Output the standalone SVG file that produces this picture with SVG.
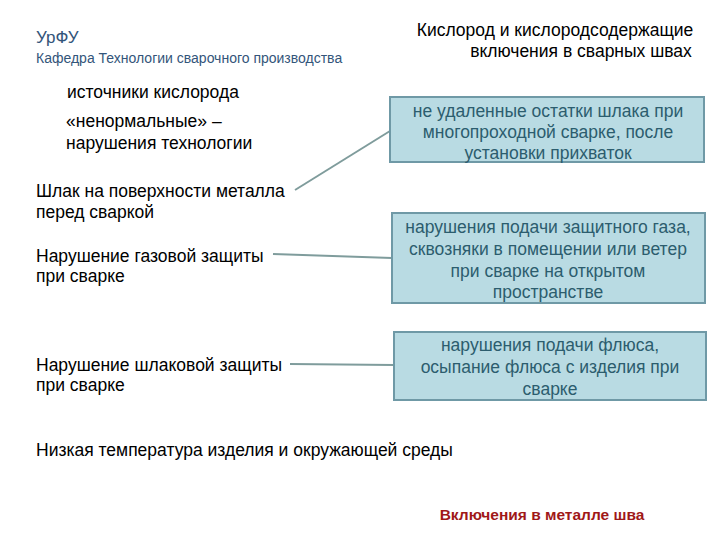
<svg xmlns="http://www.w3.org/2000/svg" width="720" height="540" viewBox="0 0 720 540">
<style>
text{font-family:"Liberation Sans",Arial,sans-serif;fill:#000}
.b rect{fill:#b9dbe3;stroke:#6f99a6;stroke-width:2}
.b text{fill:#2c5d6e;font-size:17.5px;text-anchor:middle}
.l{font-size:17.5px}
</style>
<rect width="720" height="540" fill="#fff"/>
<text x="36" y="43" font-size="17" style="fill:#33557a">УрФУ</text>
<text x="36" y="63" font-size="14" style="fill:#33557a">Кафедра Технологии сварочного производства</text>
<text x="555" y="36" font-size="17.5" text-anchor="middle">Кислород и кислородсодержащие</text>
<text x="581" y="57" font-size="17.5" text-anchor="middle">включения в сварных швах</text>
<text x="67" y="98" class="l">источники кислорода</text>
<text x="66" y="127" class="l">«ненормальные» –</text>
<text x="66" y="149" class="l">нарушения технологии</text>
<text x="36" y="197" class="l">Шлак на поверхности металла</text>
<text x="36" y="218" class="l">перед сваркой</text>
<text x="36" y="262" class="l">Нарушение газовой защиты</text>
<text x="36" y="282" class="l">при сварке</text>
<text x="36" y="371" class="l">Нарушение шлаковой защиты</text>
<text x="36" y="391" class="l">при сварке</text>
<text x="36" y="456" class="l">Низкая температура изделия и окружающей среды</text>
<text x="542" y="520" font-size="15.5" font-weight="bold" text-anchor="middle" style="fill:#a01818">Включения в металле шва</text>
<g id="connectors" stroke="#7f9c9c" stroke-width="2" fill="none">
<line x1="295" y1="190" x2="390" y2="131"/>
<line x1="273" y1="254" x2="392" y2="258"/>
<line x1="290" y1="364" x2="394" y2="365"/>
</g>
<g id="n1" class="b"><rect x="390" y="97" width="314" height="65"/>
<text x="548" y="117">не удаленные остатки шлака при</text>
<text x="548" y="138">многопроходной сварке, после</text>
<text x="548" y="159">установки прихваток</text></g>
<g id="n2" class="b"><rect x="392" y="213" width="313" height="90"/>
<text x="548" y="233">нарушения подачи защитного газа,</text>
<text x="548" y="255">сквозняки в помещении или ветер</text>
<text x="548" y="277">при сварке на открытом</text>
<text x="548" y="298">пространстве</text></g>
<g id="n3" class="b"><rect x="394" y="332" width="312" height="68"/>
<text x="550" y="351">нарушения подачи флюса,</text>
<text x="550" y="373">осыпание флюса с изделия при</text>
<text x="550" y="395">сварке</text></g>
</svg>
